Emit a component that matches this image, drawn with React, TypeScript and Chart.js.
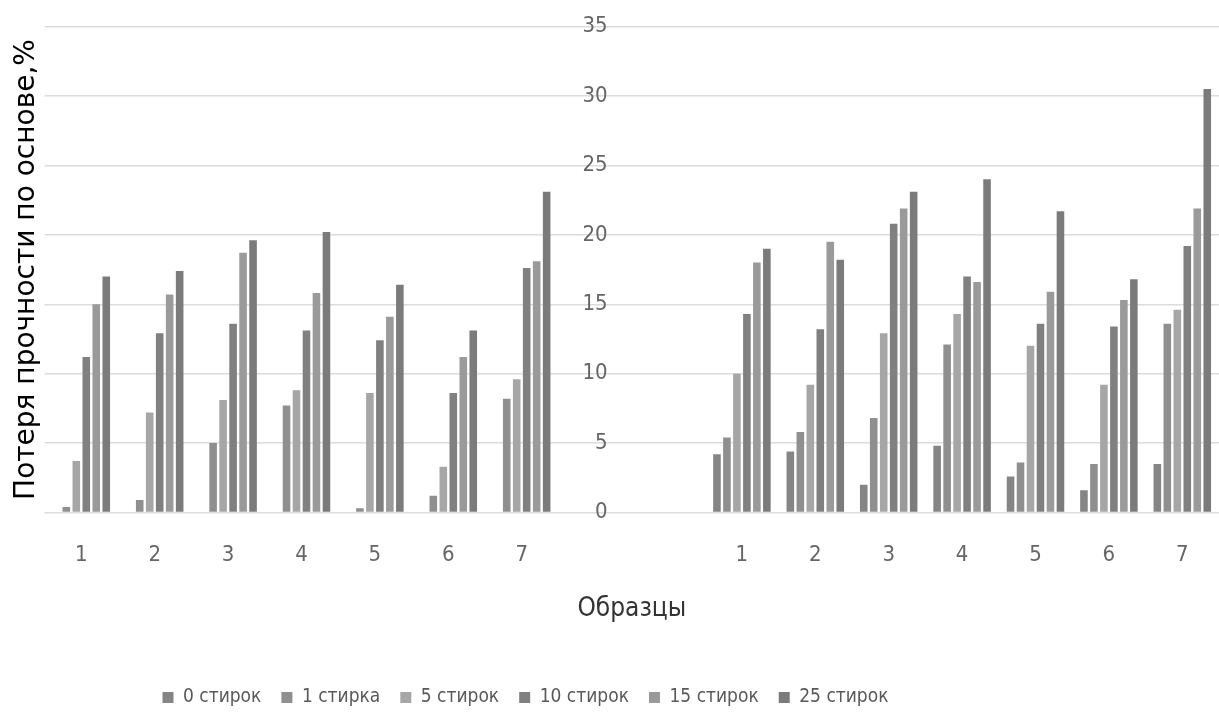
import React, { useEffect, useRef } from 'react';
import { Chart, registerables } from 'chart.js';

Chart.register(...registerables);

// Sample numbers: left block, two empty gap slots, right block
const sampleLabels = ['1', '2', '3', '4', '5', '6', '7', '', '', '1', '2', '3', '4', '5', '6', '7'];

const washLabels = ['0 стирок', '1 стирка', '5 стирок', '10 стирок', '15 стирок', '25 стирок'];
const washColors = ['#858585', '#8f8f8f', '#a6a6a6', '#808080', '#9a9a9a', '#7b7b7b'];

// Strength loss, % (per number of washes)
const wash0 = [0, 0, 0, 0, 0, 0, 0, null, null, 4.2, 4.4, 2.0, 4.8, 2.6, 1.6, 3.5];
const wash1 = [0.4, 0.9, 5.0, 7.7, 0.3, 1.2, 8.2, null, null, 5.4, 5.8, 6.8, 12.1, 3.6, 3.5, 13.6];
const wash5 = [3.7, 7.2, 8.1, 8.8, 8.6, 3.3, 9.6, null, null, 10.0, 9.2, 12.9, 14.3, 12.0, 9.2, 14.6];
const wash10 = [11.2, 12.9, 13.6, 13.1, 12.4, 8.6, 17.6, null, null, 14.3, 13.2, 20.8, 17.0, 13.6, 13.4, 19.2];
const wash15 = [15.0, 15.7, 18.7, 15.8, 14.1, 11.2, 18.1, null, null, 18.0, 19.5, 21.9, 16.6, 15.9, 15.3, 21.9];
const wash25 = [17.0, 17.4, 19.6, 20.2, 16.4, 13.1, 23.1, null, null, 19.0, 18.2, 23.1, 24.0, 21.7, 16.8, 30.5];

const washSeries = [wash0, wash1, wash5, wash10, wash15, wash25];

const yMin = 0;
const yMax = 35;
const yStep = 5;

// The value axis sits inside the gap between the two blocks (category index units)
const valueAxisAt = 7.17;

const yTitle = 'Потеря прочности по основе,%';
const xTitle = 'Образцы';

const condensed = "'DejaVu Sans Condensed', 'DejaVu Sans', sans-serif";

// Moves the legend row a little to the left of the centre
const legendOffset = {
  id: 'legendOffset',
  afterLayout(chart: any) {
    const lg = chart.legend;
    if (!lg) return;
    lg.left -= 85;
    lg.right -= 85;
  },
};

export default function App() {
  const canvasRef = useRef<HTMLCanvasElement | null>(null);

  useEffect(() => {
    const canvas = canvasRef.current;
    if (!canvas) return;

    const chart = new Chart(canvas, {
      type: 'bar',
      data: {
        labels: sampleLabels,
        datasets: washSeries.map((values, i) => ({
          label: washLabels[i],
          data: values,
          backgroundColor: washColors[i],
          borderWidth: 0,
          categoryPercentage: 0.816,
          barPercentage: 0.76,
        })),
      },
      options: {
        animation: false,
        responsive: true,
        maintainAspectRatio: false,
        layout: { padding: { top: 26.5, right: -2, bottom: -4, left: 0 } },
        plugins: {
          tooltip: { enabled: false },
          legend: {
            position: 'bottom',
            labels: {
              boxWidth: 11,
              boxHeight: 11,
              padding: 20,
              color: '#595959',
              font: { family: condensed, size: 19 },
            },
          },
        },
        scales: {
          x: {
            type: 'category',
            offset: true,
            grid: { display: false },
            border: { display: false },
            ticks: {
              color: '#666666',
              font: { family: condensed, size: 22 },
              padding: 21.5,
              maxRotation: 0,
              autoSkip: false,
            },
            title: {
              display: true,
              text: xTitle,
              color: '#333333',
              font: { family: condensed, size: 26 },
              padding: { top: 3.5, bottom: 43.4 },
            },
          },
          y: {
            type: 'linear',
            position: { x: valueAxisAt },
            min: yMin,
            max: yMax,
            grid: { color: '#dcdcdc', lineWidth: 1.4, drawTicks: false },
            border: { display: false },
            ticks: {
              stepSize: yStep,
              color: '#666666',
              font: { family: condensed, size: 22 },
              padding: 0,
            },
          },
          yTitle: {
            type: 'linear',
            position: 'left',
            axis: 'y',
            grid: { display: false },
            border: { display: false },
            ticks: { display: false },
            title: {
              display: true,
              text: yTitle,
              color: '#000000',
              font: { family: "'DejaVu Sans', sans-serif", size: 28, lineHeight: 0.7 },
              padding: { top: 17, bottom: 0 },
            },
          },
        },
      },
      plugins: [legendOffset],
    });

    return () => chart.destroy();
  }, []);

  return (
    <div style={{ position: 'fixed', left: 0, top: 0, width: 1219, height: 713, background: '#ffffff' }}>
      <canvas ref={canvasRef} />
    </div>
  );
}
